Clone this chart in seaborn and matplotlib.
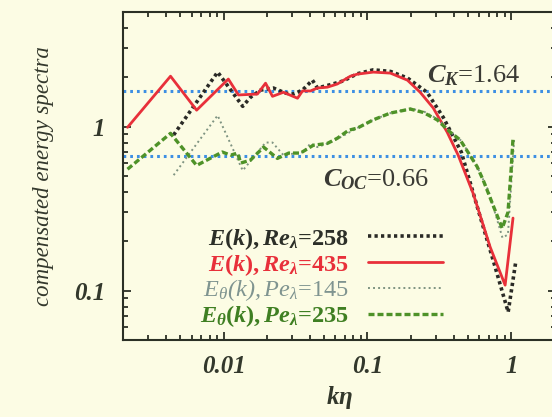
import numpy as np
import pandas as pd
import matplotlib
matplotlib.use("Agg")
import matplotlib.pyplot as plt
import seaborn as sns
from matplotlib.ticker import LogLocator, NullFormatter

# --- compensated spectra, k*eta vs value ---
re258_x = [0.0045, 0.0091, 0.0136, 0.0154, 0.0181, 0.0222, 0.0270, 0.0306, 0.0354, 0.0415,
           0.0450, 0.055, 0.068, 0.085, 0.110, 0.145, 0.190, 0.26, 0.337, 0.45, 0.59, 0.75,
           0.953, 1.08]
re258_y = [0.89, 2.15, 1.33, 1.51, 1.67, 1.72, 1.60, 1.58, 1.67, 1.92,
           1.72, 1.80, 1.90, 2.10, 2.22, 2.17, 1.98, 1.62, 1.14, 0.70, 0.31, 0.153,
           0.074, 0.153]

re435_x = [0.00215, 0.00428, 0.0065, 0.0108, 0.0127, 0.0172, 0.0196, 0.0219, 0.0261, 0.0327,
           0.0354, 0.0402, 0.045, 0.0527, 0.0619, 0.0762, 0.0853, 0.110, 0.1445, 0.190,
           0.233, 0.287, 0.359, 0.428, 0.545, 0.715, 0.908, 1.03]
re435_y = [0.99, 2.03, 1.26, 1.95, 1.56, 1.58, 1.84, 1.53, 1.62, 1.49,
           1.65, 1.65, 1.72, 1.74, 1.82, 2.03, 2.09, 2.15, 2.12, 1.92,
           1.62, 1.30, 0.925, 0.67, 0.39, 0.184, 0.108, 0.277]

pe145_x = [0.0045, 0.0091, 0.0136, 0.0196, 0.0219, 0.0261, 0.036, 0.0402, 0.045, 0.055,
           0.068, 0.085, 0.110, 0.145, 0.20, 0.25, 0.31, 0.38, 0.45, 0.58, 0.70, 0.87,
           0.95, 1.05]
pe145_y = [0.506, 1.17, 0.54, 0.80, 0.80, 0.67, 0.70, 0.79, 0.75, 0.80,
           0.88, 0.98, 1.10, 1.21, 1.29, 1.23, 1.11, 0.93, 0.82, 0.57, 0.40, 0.21,
           0.22, 0.85]

pe235_x = [0.00215, 0.00428, 0.0065, 0.0098, 0.0112, 0.0125, 0.0132, 0.0154, 0.0190, 0.0237,
           0.0284, 0.0343, 0.0421, 0.0527, 0.0619, 0.0740, 0.0853, 0.110, 0.1445, 0.199,
           0.245, 0.306, 0.377, 0.442, 0.58, 0.64, 0.866, 0.95, 1.0, 1.03]
pe235_y = [0.55, 0.91, 0.58, 0.70, 0.67, 0.69, 0.60, 0.625, 0.75, 0.64,
           0.69, 0.69, 0.77, 0.79, 0.85, 0.95, 0.98, 1.10, 1.21, 1.28,
           1.22, 1.10, 0.925, 0.83, 0.57, 0.47, 0.24, 0.30, 0.55, 0.85]

c_k = 1.64
c_oc = 0.66

labels = [r"$E(k),Re_{\lambda}$=258", r"$E(k),Re_{\lambda}$=435",
          r"$\mathsf{E_{\theta}(k),Pe_{\lambda}}$=145", r"$E_{\theta}(k),Pe_{\lambda}$=235"]

paper = "#fcfce4"
ink = "#2b3025"

sns.set_theme(style="ticks")
plt.rcParams["font.family"] = ["Liberation Serif", "DejaVu Serif"]
plt.rcParams["mathtext.fontset"] = "custom"
plt.rcParams["mathtext.rm"] = "Liberation Serif:bold"
plt.rcParams["mathtext.it"] = "Liberation Serif:italic:bold"
plt.rcParams["mathtext.bf"] = "Liberation Serif:bold"
plt.rcParams["mathtext.sf"] = "Liberation Serif:italic"

fig = plt.figure(figsize=(5.52, 4.17), dpi=100, facecolor=paper)
ax = fig.add_axes([123 / 552, 77 / 417, 433 / 552, 328 / 417])
ax.set_facecolor(paper)
ax.set_xscale("log")
ax.set_yscale("log")

series = [
    (re258_x, re258_y, dict(color="#2a2a26", lw=2.6, linestyle=(0, (0.9, 0.9)))),
    (re435_x, re435_y, dict(color="#e8303a", lw=2.0, linestyle="-")),
    (pe145_x, pe145_y, dict(color="#7f9482", lw=1.4, linestyle=(0, (1, 1.6)))),
    (pe235_x, pe235_y, dict(color="#4e9228", lw=2.4, linestyle=(0, (1.8, 0.9)))),
]
handles = []
for (xs, ys, kw), lab in zip(series, labels):
    df = pd.DataFrame({"x": xs, "y": ys})
    sns.lineplot(data=df, x="x", y="y", ax=ax, estimator=None, sort=False, legend=False, **kw)
    handles.append(ax.lines[-1])

for c in (c_k, c_oc):
    ax.axhline(c, color="#3d8fe3", lw=2.2, linestyle=(0, (0.9, 1.3)), zorder=1)

ax.xaxis.set_minor_locator(LogLocator(base=10, subs=np.arange(2, 10)))
ax.yaxis.set_minor_locator(LogLocator(base=10, subs=np.arange(2, 10)))
ax.set_xticks([0.001, 0.01, 0.1, 1], labels=["", "0.01", "0.1", "1"])
ax.set_yticks([0.1, 1], labels=["0.1", "1"])
ax.xaxis.set_minor_formatter(NullFormatter())
ax.yaxis.set_minor_formatter(NullFormatter())
ax.set_xlim(0.002, 2.05)
ax.set_ylim(0.05, 5.0)

ax.tick_params(which="both", direction="in", top=True, right=True, color=ink, width=1.3)
ax.tick_params(which="major", length=6)
ax.tick_params(which="minor", length=3.5)
ax.tick_params(axis="x", which="major", pad=11, labelsize=18, labelcolor="#33382c")
ax.tick_params(axis="y", which="major", pad=13, labelsize=18, labelcolor="#33382c")
for t in ax.get_xticklabels() + ax.get_yticklabels():
    t.set_fontweight("bold")
    t.set_fontstyle("italic")

for s in ax.spines.values():
    s.set_color(ink)
    s.set_linewidth(1.5)

ax.set_xlabel(r"$k\eta$", fontsize=18, color="#33382c", labelpad=4)
ax.set_ylabel("compensated energy spectra", fontsize=16.5, fontstyle="italic",
              color="#33382c", labelpad=14)

ax.text(0.702, 0.805, r"$C_K$=1.64", transform=ax.transAxes, fontsize=19,
        color="#3a3a34", ha="left", va="center")
ax.text(0.462, 0.488, r"$C_{OC}$=0.66", transform=ax.transAxes, fontsize=19,
        color="#3a3a34", ha="left", va="center")

leg = ax.legend(handles, labels, loc="center right", bbox_to_anchor=(443 / 552, 1 - 277.5 / 417),
                bbox_transform=fig.transFigure, frameon=False, markerfirst=False,
                fontsize=17.5, handlelength=3.1, handletextpad=0.78, labelspacing=0.0,
                borderpad=0, borderaxespad=0)
for txt, col, wt in zip(leg.get_texts(), ["#2c2f28", "#e8303a", "#7f9490", "#3f7f22"],
                        ["bold", "bold", "normal", "bold"]):
    txt.set_color(col)
    txt.set_fontweight(wt)

fig.savefig("out.png", dpi=100, facecolor=paper)
